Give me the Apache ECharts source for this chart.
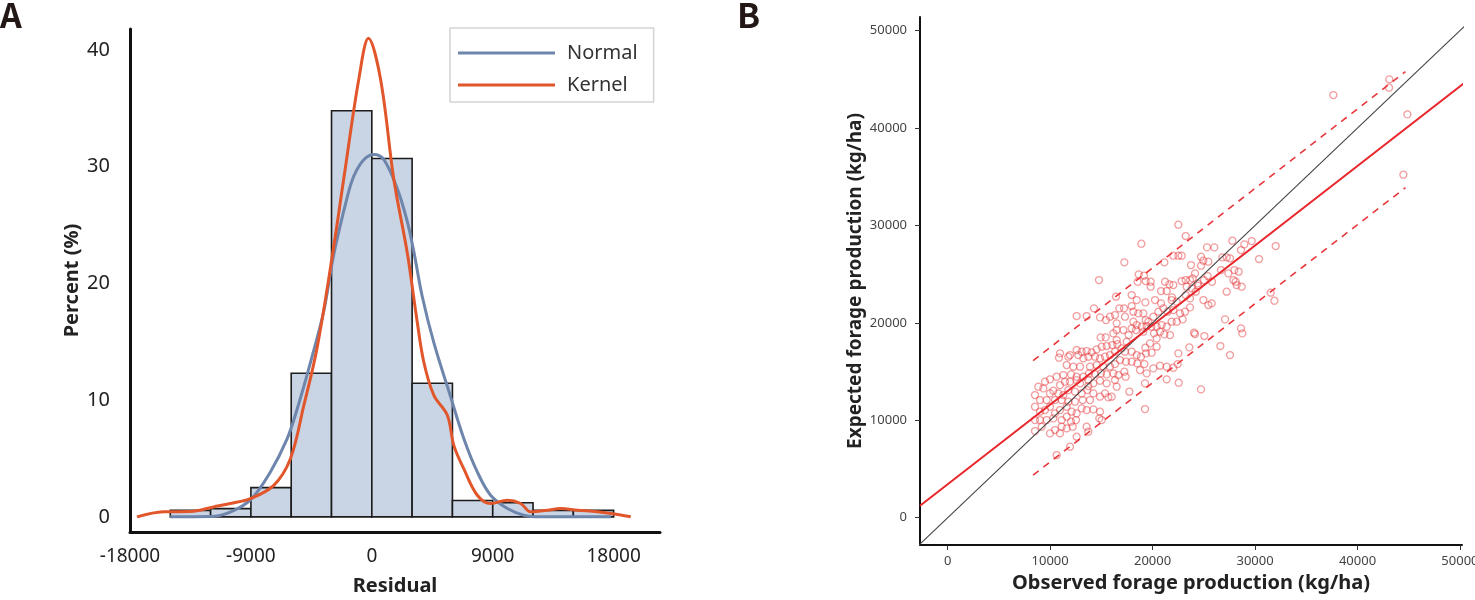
<!DOCTYPE html>
<html>
<head>
<meta charset="utf-8">
<script src="https://cdn.jsdelivr.net/npm/echarts@6/dist/echarts.min.js"></script>
<style>
  html, body { margin: 0; padding: 0; background: #fff; }
  #chart { width: 1475px; height: 600px; }
</style>
</head>
<body>
<div id="chart"></div>
<script>
// ---------- Panel A data ----------
const histEdges = [-15000, -12000, -9000, -6000, -3000, 0, 3000, 6000, 9000, 12000, 15000, 18000];
const histPercent = [0.55, 0.7, 2.5, 12.3, 34.8, 30.7, 11.45, 1.4, 1.2, 0.55, 0.55];
const residualTicks = [-18000, -9000, 0, 9000, 18000];
const percentTicks = [0, 10, 20, 30, 40];
const normalCurve = [
  [-15000, 0], [-12000, 0.02], [-10500, 0.43], [-9000, 1.5], [-7550, 3.85], [-6300, 6.7],
  [-5550, 9.26], [-4550, 13.3], [-3580, 17.6], [-2830, 22.5], [-1830, 27.4], [-1340, 29.2],
  [-600, 30.6], [150, 31.05], [900, 30.6], [1900, 28.1], [2640, 25.3], [3130, 22.7],
  [3750, 18.9], [4620, 14.9], [5860, 10.3], [6850, 6.7], [7850, 3.85], [8840, 1.85],
  [10090, 0.71], [11320, 0.14], [12500, 0], [17800, 0]
];
const kernelCurve = [
  [-17480, 0], [-15500, 0.43], [-13500, 0.45], [-11770, 0.85], [-10530, 1.14], [-9040, 1.56],
  [-7300, 2.7], [-6060, 4.98], [-5070, 9.5], [-4070, 14.5], [-2830, 23.2], [-2060, 29.2],
  [-970, 37.5], [-250, 41], [650, 37.5], [1640, 28.9], [2640, 22.6], [3380, 16.7],
  [3880, 13.2], [4620, 10.4], [5620, 8.7], [6110, 6.1], [6850, 4.1], [7850, 1.85],
  [8840, 1.14], [10090, 1.42], [11080, 1.14], [11820, 0.43], [13070, 0.57], [14060, 0.71],
  [15300, 0.57], [16790, 0.43], [17780, 0.28], [19270, 0]
];

// ---------- Panel B data ----------
const productionTicks = [0, 10000, 20000, 30000, 40000, 50000];
const observedVsExpected = [
  [22515,30080],[23231,28916],[18903,28129],[25313,27753],[26030,27753],[27787,28437],[28958,28061],
  [29674,28403],[32017,27890],[17244,26213],[21148,26213],[22027,26898],[22515,26898],[22841,26898],
  [24727,26795],[24955,26384],[25444,26281],[24727,25871],[23752,25939],[27233,26726],[26810,26726],
  [27559,26624],[28632,27479],[30390,26555],
  [14771,24400],[18643,24981],[19163,24844],[18545,24228],[19326,24297],[19814,24228],[19814,23715],
  [21213,24228],[21636,23955],[22027,23886],[21376,23270],[20823,23270],[22841,24297],[23231,24400],
  [23654,24400],[24142,25084],[23914,24570],[24402,24057],[25020,24400],[25378,24810],[25802,24228],
  [26680,25426],[27396,25084],[27982,25426],[28405,25255],[27884,24400],[28209,23886],[28697,23715],
  [27233,23202],[28112,24228],[16430,22688],[17959,22860],[18447,22346],[19294,22107],[20237,22346],
  [20823,22004],[21864,22346],[22352,22175],[21897,22620],[23328,23715],[23817,23544],[24467,23818],
  [23231,22860],[23654,22517],[24955,22346],[25444,21833],[25769,22004],[31529,23099],[31887,22278],
  [24207,23202],
  [12590,20704],[13566,20704],[14282,21491],[14868,20567],[15454,20293],[15844,20635],[16332,20806],
  [16755,21491],[17211,21491],[17309,20635],[17959,21730],[18122,21149],[18610,20977],[19098,20977],
  [19326,20293],[19586,20122],[20074,20635],[20562,21149],[21051,21491],[21474,21149],[22027,21320],
  [22678,20977],[23166,21149],[23654,21593],[22938,20362],[22352,20122],[21864,20122],[18122,20122],
  [18447,19780],[18936,19609],[19424,19677],[19879,19609],[20400,19609],[20888,19780],[21376,19609],
  [20725,19095],[20139,18924],[20400,18411],[21148,18822],[21701,18753],[19098,19095],[18382,19266],
  [17959,19438],[17666,18753],[17146,19266],[16495,19951],[16495,19266],[16170,18924],[14933,18514],
  [15421,18514],[24044,18993],[24142,18856],[25053,18650],[27071,20362],[28632,19438],[28762,18924],
  [27559,16700],[26615,17624],
  [12590,17213],[13078,17042],[13566,17110],[14055,16974],[14543,17282],[15031,17555],[15519,17624],
  [16072,17727],[16560,17829],[16983,17384],[17309,17042],[17959,17042],[18447,16700],[18870,16529],
  [19359,16871],[19912,16939],[20400,17555],[19749,17898],[19294,17453],[16495,18240],[17471,18069],
  [16332,17042],[15844,16700],[15356,16529],[14868,16358],[14380,16529],[13729,16529],[13241,16358],
  [12753,16700],[11939,16700],[11777,16529],[10963,16871],[10866,16426],[11614,15673],[12265,15502],
  [12916,15502],[13892,15502],[14543,15673],[15193,15502],[15844,15502],[16332,15776],[16820,16186],
  [17406,16015],[17959,16015],[18512,15844],[19196,15776],[18773,15160],[19424,14818],[20074,15331],
  [20725,15605],[21376,15502],[22027,15400],[22450,15776],[23589,17487],[22515,16871],
  [10638,14476],[11289,14647],[12037,14715],[12590,14476],[13241,14476],[13794,14818],[14380,14750],
  [14966,14818],[15519,14715],[16170,14818],[16658,14647],[17244,14989],[17374,14476],[16332,14133],
  [15519,13791],[14868,14065],[14217,13791],[13729,14133],[12916,13791],[12590,14133],[11939,13962],
  [11451,13962],[10963,13620],[9987,14202],[9499,13962],[8848,13449],[9336,13278],[9987,12765],
  [10312,13038],[10801,12765],[11289,12594],[11777,13107],[12428,12936],[13078,12765],[13632,13107],
  [14217,12765],[14868,12422],[15356,12765],[15682,12354],[16007,12422],[13892,12081],[13176,12081],
  [12428,11909],[11777,11909],[11126,12081],[10475,12081],[9662,12081],[9011,12081],[8523,12594],
  [17731,12936],[19261,13791],[21376,14202],[22547,13859],[24727,13175],[16495,13449],[13729,13518],
  [8523,11396],[9011,10883],[9499,11054],[9987,11396],[10475,10712],[10963,11054],[11614,11396],
  [12102,10883],[12590,10712],[13078,11225],[13566,11054],[14217,11122],[14868,10883],[8523,10027],
  [9011,10027],[9662,10027],[10312,10198],[11126,10027],[11614,10370],[12037,9856],[12525,10027],
  [8523,8898],[9174,9343],[9987,8658],[10475,9000],[11126,9343],[11614,9172],[12200,9343],
  [14803,10198],[15031,10027],[13566,9343],[13729,8829],[10963,8658],[12590,8316],[11939,7289],
  [10638,6434],[19261,11156],
  [37645,43390],[43110,45000],[43080,44140],[44870,41400],[44480,35210]
];
const identityLine = [[-3000, -3000], [52000, 52000]];
const fittedLine = [[-2700, 1227], [50500, 44692]];
const upperBand = [[8340, 16120], [44680, 45790]];
const lowerBand = [[8340, 4380], [44680, 33880]];

const chart = echarts.init(document.getElementById('chart'), null, { renderer: 'canvas' });

const txt = '#222';
const plain = v => String(v);
const option = {
  animation: false,
  backgroundColor: '#ffffff',
  graphic: [
    { type: 'text', left: 0, top: -2, style: { text: 'A', font: 'bold 34px "Noto Sans CJK KR"', fill: '#231815' } },
    { type: 'text', left: 737, top: -2, style: { text: 'B', font: 'bold 34px "Noto Sans CJK KR"', fill: '#231815' } }
  ],
  legend: {
    data: ['Normal', 'Kernel'],
    orient: 'vertical',
    left: 450, top: 28,
    icon: 'rect',
    itemWidth: 97, itemHeight: 3,
    itemGap: 12,
    padding: [15, 16, 7, 8],
    borderColor: '#d4d4d4', borderWidth: 1.5,
    textStyle: { fontSize: 20, color: '#333', fontFamily: 'Noto Sans', padding: [0, 0, 0, 7] }
  },
  grid: [
    { left: 130, top: 29, width: 530, height: 503, outerBoundsMode: 'none', containLabel: false },
    { left: 920, top: 17, width: 542, height: 528, outerBoundsMode: 'none', containLabel: false }
  ],
  xAxis: [
    {
      gridIndex: 0, type: 'value', min: -18000, max: 21450,
      axisLine: { onZero: false, lineStyle: { color: '#111', width: 3 } },
      axisTick: { show: false }, splitLine: { show: false },
      axisLabel: { customValues: residualTicks, formatter: plain, fontSize: 19, color: txt, margin: 15, fontFamily: 'Noto Sans' },
      name: 'Residual', nameLocation: 'middle', nameGap: 44,
      nameTextStyle: { fontSize: 20, fontWeight: 'bold', color: txt, fontFamily: 'Noto Sans' }
    },
    {
      gridIndex: 1, type: 'value', min: -2700, max: 50200,
      axisLine: { onZero: false, lineStyle: { color: '#111', width: 2 } },
      axisTick: { customValues: productionTicks, length: 5, lineStyle: { color: '#333' } },
      splitLine: { show: false },
      axisLabel: { customValues: productionTicks, formatter: plain, fontSize: 13, color: '#444', margin: 10, fontFamily: 'Noto Sans' },
      name: 'Observed forage production (kg/ha)', nameLocation: 'middle', nameGap: 26,
      nameTextStyle: { fontSize: 20, fontWeight: 'bold', color: txt, fontFamily: 'Noto Sans' }
    }
  ],
  yAxis: [
    {
      gridIndex: 0, type: 'value', min: -1.3, max: 41.8,
      axisLine: { onZero: false, lineStyle: { color: '#111', width: 3 } },
      axisTick: { show: false }, splitLine: { show: false },
      axisLabel: { customValues: percentTicks, formatter: plain, fontSize: 20, color: txt, margin: 20, fontFamily: 'Noto Sans' },
      name: 'Percent (%)', nameLocation: 'middle', nameGap: 48,
      nameTextStyle: { fontSize: 20, fontWeight: 'bold', color: txt, fontFamily: 'Noto Sans' }
    },
    {
      gridIndex: 1, type: 'value', min: -2800, max: 51400,
      axisLine: { onZero: false, lineStyle: { color: '#111', width: 2 } },
      axisTick: { customValues: productionTicks, length: 5, lineStyle: { color: '#333' } },
      splitLine: { show: false },
      axisLabel: { customValues: productionTicks, formatter: plain, fontSize: 13, color: '#444', margin: 13, fontFamily: 'Noto Sans' },
      name: 'Expected forage production (kg/ha)', nameLocation: 'middle', nameGap: 55,
      nameTextStyle: { fontSize: 19, fontWeight: 'bold', color: txt, fontFamily: 'Noto Sans' }
    }
  ],
  series: [
    {
      type: 'custom', xAxisIndex: 0, yAxisIndex: 0, z: 1,
      data: histPercent.map((v, i) => [histEdges[i], histEdges[i + 1], v]),
      encode: { x: [0, 1], y: 2 },
      renderItem: function (params, api) {
        const p0 = api.coord([api.value(0), api.value(2)]);
        const p1 = api.coord([api.value(1), 0]);
        return {
          type: 'rect',
          shape: { x: p0[0], y: p0[1], width: p1[0] - p0[0], height: p1[1] - p0[1] },
          style: { fill: '#c9d4e5', stroke: '#1c1c1c', lineWidth: 1.6 }
        };
      }
    },
    {
      name: 'Normal', type: 'line', xAxisIndex: 0, yAxisIndex: 0, z: 3,
      data: normalCurve, smooth: 0.35, showSymbol: false,
      lineStyle: { color: '#6e85ac', width: 3 }, itemStyle: { color: '#6e85ac' }
    },
    {
      name: 'Kernel', type: 'line', xAxisIndex: 0, yAxisIndex: 0, z: 4,
      data: kernelCurve, smooth: 0.35, showSymbol: false,
      lineStyle: { color: '#e1562b', width: 3 }, itemStyle: { color: '#e1562b' }
    },
    {
      type: 'scatter', xAxisIndex: 1, yAxisIndex: 1, z: 2,
      data: observedVsExpected, symbol: 'circle', symbolSize: 7,
      itemStyle: { color: 'rgba(255,255,255,0)', borderColor: 'rgba(228,50,55,0.6)', borderWidth: 1.3 }
    },
    {
      type: 'line', xAxisIndex: 1, yAxisIndex: 1, z: 3, data: identityLine,
      showSymbol: false, clip: true, lineStyle: { color: '#444', width: 1.2 }
    },
    {
      type: 'line', xAxisIndex: 1, yAxisIndex: 1, z: 4, data: fittedLine,
      showSymbol: false, clip: true, lineStyle: { color: '#e8262b', width: 2 }
    },
    {
      type: 'line', xAxisIndex: 1, yAxisIndex: 1, z: 4, data: upperBand,
      showSymbol: false, lineStyle: { color: '#e8383c', width: 1.6, type: [7, 6] }
    },
    {
      type: 'line', xAxisIndex: 1, yAxisIndex: 1, z: 4, data: lowerBand,
      showSymbol: false, lineStyle: { color: '#e8383c', width: 1.6, type: [7, 6] }
    }
  ]
};
chart.setOption(option);
</script>
</body>
</html>
